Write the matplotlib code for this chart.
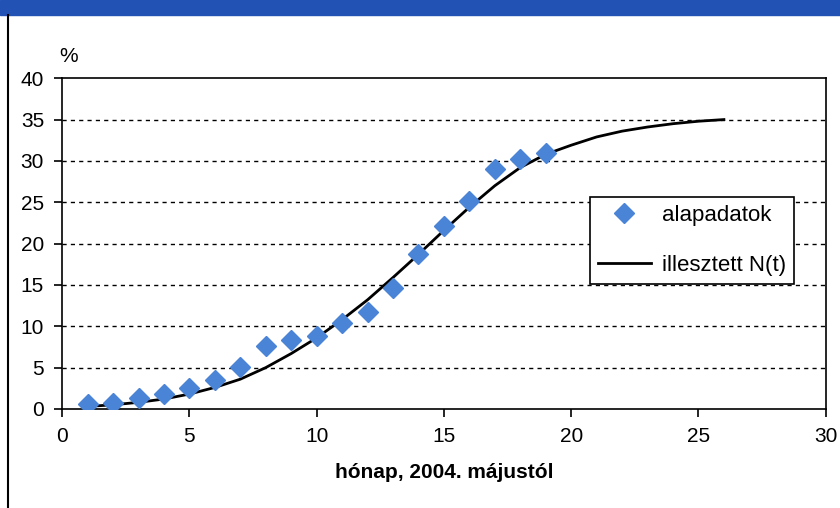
import matplotlib
matplotlib.use("Agg")
import matplotlib.pyplot as plt
from matplotlib.lines import Line2D
from matplotlib.patches import Rectangle

plt.rcParams['font.family'] = ['Liberation Sans', 'DejaVu Sans']

# alapadatok (measured points)
months = [1, 2, 3, 4, 5, 6, 7, 8, 9, 10, 11, 12, 13, 14, 15, 16, 17, 18, 19]
values = [0.6, 0.7, 1.3, 1.8, 2.5, 3.5, 5.1, 7.6, 8.3, 8.8, 10.4, 11.7, 14.6,
          18.7, 22.1, 25.1, 29.0, 30.2, 31.0]

# illesztett N(t) (fitted curve)
fit_months = [1, 2, 3, 4, 5, 6, 7, 8, 9, 10, 11, 12, 13, 14, 15, 16, 17, 18,
              19, 20, 21, 22, 23, 24, 25, 26]
fit_values = [0.3, 0.5, 0.8, 1.2, 1.8, 2.6, 3.6, 5.0, 6.7, 8.6, 10.8, 13.2,
              15.9, 18.7, 21.6, 24.4, 27.0, 29.2, 30.8, 31.9, 32.9, 33.6,
              34.1, 34.5, 34.8, 35.0]

x_ticks = [0, 5, 10, 15, 20, 25, 30]
y_ticks = [0, 5, 10, 15, 20, 25, 30, 35, 40]

fig = plt.figure(figsize=(8.4, 5.08), dpi=100)

# blue header band and left frame line of the scanned box
fig.patches.append(Rectangle((0, 0.97), 1, 0.03, transform=fig.transFigure,
                             color='#2152b4', zorder=0))
fig.lines.append(Line2D([0.009, 0.009], [0, 0.97], transform=fig.transFigure,
                        color='black', lw=1.5))

ax = fig.add_axes([0.074, 0.195, 0.909, 0.651])

for y in y_ticks[1:-1]:
    ax.axhline(y, color='black', lw=1, linestyle=(0, (3, 3)), zorder=1)

ax.plot(fit_months, fit_values, color='black', lw=2, zorder=2)
ax.plot(months, values, linestyle='none', marker='D', markersize=10.5,
        color='#4a84d6', markeredgecolor='#4a84d6', zorder=3)

ax.set_xlim(0, 30)
ax.set_ylim(0, 40)
ax.set_xticks(x_ticks)
ax.set_yticks(y_ticks)
ax.tick_params(labelsize=15, direction='out', length=6, width=1.2, pad=7)
for s in ax.spines.values():
    s.set_linewidth(1.2)

ax.set_xlabel('hónap, 2004. májustól', fontsize=15, fontweight='bold', labelpad=12)
ax.text(-0.1, 41.5, '%', fontsize=15, ha='left', va='bottom')

handles = [Line2D([], [], linestyle='none', marker='D', markersize=10.5,
                  color='#4a84d6', label='alapadatok'),
           Line2D([], [], color='black', lw=2, label='illesztett N(t)')]
leg = ax.legend(handles=handles, loc='upper left', bbox_to_anchor=(0.691, 0.64),
                borderaxespad=0, fontsize=16, frameon=True, fancybox=False,
                framealpha=1, edgecolor='black', borderpad=0.35,
                labelspacing=1.3, handlelength=2.4, handletextpad=0.5)
leg.get_frame().set_linewidth(1.2)

fig.savefig('out.png', dpi=100)
